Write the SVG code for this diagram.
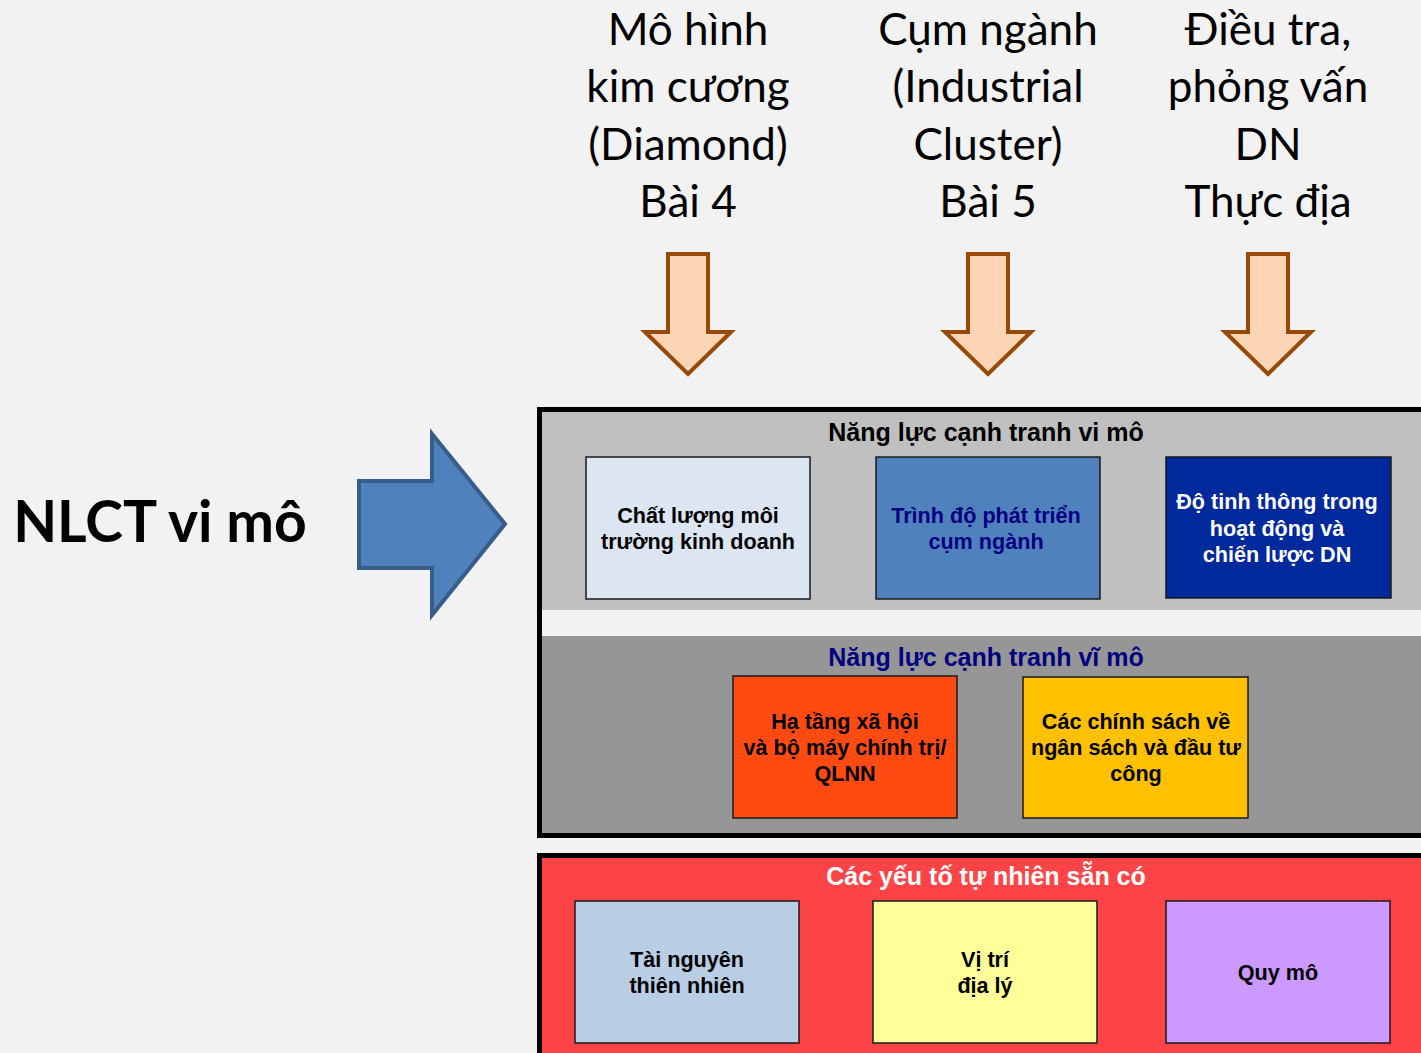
<svg xmlns="http://www.w3.org/2000/svg" width="1421" height="1053" viewBox="0 0 1421 1053">
<style>
.top{font-family:Lato,"Liberation Sans",sans-serif;font-size:44px;fill:#000;text-anchor:middle}
.ttl{font-family:"Liberation Sans",Arial,sans-serif;font-weight:bold;font-size:25px;text-anchor:middle}
.bx{font-family:"Liberation Sans",Arial,sans-serif;font-weight:bold;font-size:21.6px;text-anchor:middle}
.box{stroke:#1a1a1a;stroke-width:1.5}
.down{fill:#fcd5b5;stroke:#984807;stroke-width:4;stroke-linejoin:miter}
</style>
<rect width="1421" height="1053" fill="#f2f2f2"/>

<g id="heading">
<text x="160" y="542" style="font-family:Lato,'Liberation Sans',sans-serif;font-weight:bold;font-size:57px;text-anchor:middle">NLCT vi mô</text>
</g>

<g id="source-labels">
<text class="top" x="688" y="45">Mô hình</text>
<text class="top" x="688" y="102">kim cương</text>
<text class="top" x="688" y="160">(Diamond)</text>
<text class="top" x="688" y="217">Bài 4</text>
<text class="top" x="988" y="45">Cụm ngành</text>
<text class="top" x="988" y="102">(Industrial</text>
<text class="top" x="988" y="160">Cluster)</text>
<text class="top" x="988" y="217">Bài 5</text>
<text class="top" x="1268" y="45">Điều tra,</text>
<text class="top" x="1268" y="102">phỏng vấn</text>
<text class="top" x="1268" y="160">DN</text>
<text class="top" x="1268" y="217">Thực địa</text>
</g>

<g id="connectors">
<path class="down" d="M668,254 H708 V332 H731 L688,374 L645,332 H668 Z"/>
<path class="down" d="M968,254 H1008 V332 H1031 L988,374 L945,332 H968 Z"/>
<path class="down" d="M1248,254 H1288 V332 H1311 L1268,374 L1225,332 H1248 Z"/>
<path d="M359,481 H432 V434 L505,524 L432,615 V568 H359 Z" fill="#4f81bd" stroke="#385d8a" stroke-width="4"/>
</g>

<g id="competitiveness-panel">
<rect x="539.5" y="409.5" width="890" height="426" fill="#f2f2f2" stroke="#000" stroke-width="5"/>
<rect x="542" y="412" width="885" height="198" fill="#c0c0c0"/>
<rect x="542" y="636" width="885" height="197" fill="#969696"/>
</g>

<g id="micro-title"><text class="ttl" x="986" y="441" fill="#000">Năng lực cạnh tranh vi mô</text></g>

<g id="node-business-env">
<rect class="box" x="586" y="457" width="224" height="142" fill="#dce6f2"/>
<text class="bx" x="698" y="523">Chất lượng môi</text>
<text class="bx" x="698" y="549">trường kinh doanh</text>
</g>
<g id="node-cluster">
<rect class="box" x="876" y="457" width="224" height="142" fill="#4f81bd"/>
<text class="bx" x="986" y="523" fill="#000080">Trình độ phát triển</text>
<text class="bx" x="986" y="549" fill="#000080">cụm ngành</text>
</g>
<g id="node-firm-strategy">
<rect class="box" x="1166" y="457" width="225" height="141" fill="#00299b"/>
<text class="bx" x="1277" y="509" fill="#fff">Độ tinh thông trong</text>
<text class="bx" x="1277" y="536" fill="#fff">hoạt động và</text>
<text class="bx" x="1277" y="562" fill="#fff">chiến lược DN</text>
</g>

<g id="macro-title"><text class="ttl" x="986" y="666" fill="#000080">Năng lực cạnh tranh vĩ mô</text></g>

<g id="node-infrastructure">
<rect class="box" x="733" y="676" width="224" height="142" fill="#ff4b12"/>
<text class="bx" x="845" y="729">Hạ tầng xã hội</text>
<text class="bx" x="845" y="755">và bộ máy chính trị/</text>
<text class="bx" x="845" y="781">QLNN</text>
</g>
<g id="node-policy">
<rect class="box" x="1023" y="677" width="225" height="141" fill="#ffc000"/>
<text class="bx" x="1136" y="729">Các chính sách về</text>
<text class="bx" x="1136" y="755">ngân sách và đầu tư</text>
<text class="bx" x="1136" y="781">công</text>
</g>

<g id="natural-panel">
<rect x="539.5" y="855.5" width="890" height="220" fill="#fe4446" stroke="#000" stroke-width="5"/>
<text class="ttl" x="986" y="885" fill="#fff">Các yếu tố tự nhiên sẵn có</text>
</g>

<g id="node-resources">
<rect class="box" x="575" y="901" width="224" height="142" fill="#b9cde5"/>
<text class="bx" x="687" y="967">Tài nguyên</text>
<text class="bx" x="687" y="993">thiên nhiên</text>
</g>
<g id="node-location">
<rect class="box" x="873" y="901" width="224" height="142" fill="#ffff99"/>
<text class="bx" x="985" y="967">Vị trí</text>
<text class="bx" x="985" y="993">địa lý</text>
</g>
<g id="node-scale">
<rect class="box" x="1166" y="901" width="224" height="142" fill="#cc99ff"/>
<text class="bx" x="1278" y="980">Quy mô</text>
</g>
</svg>
